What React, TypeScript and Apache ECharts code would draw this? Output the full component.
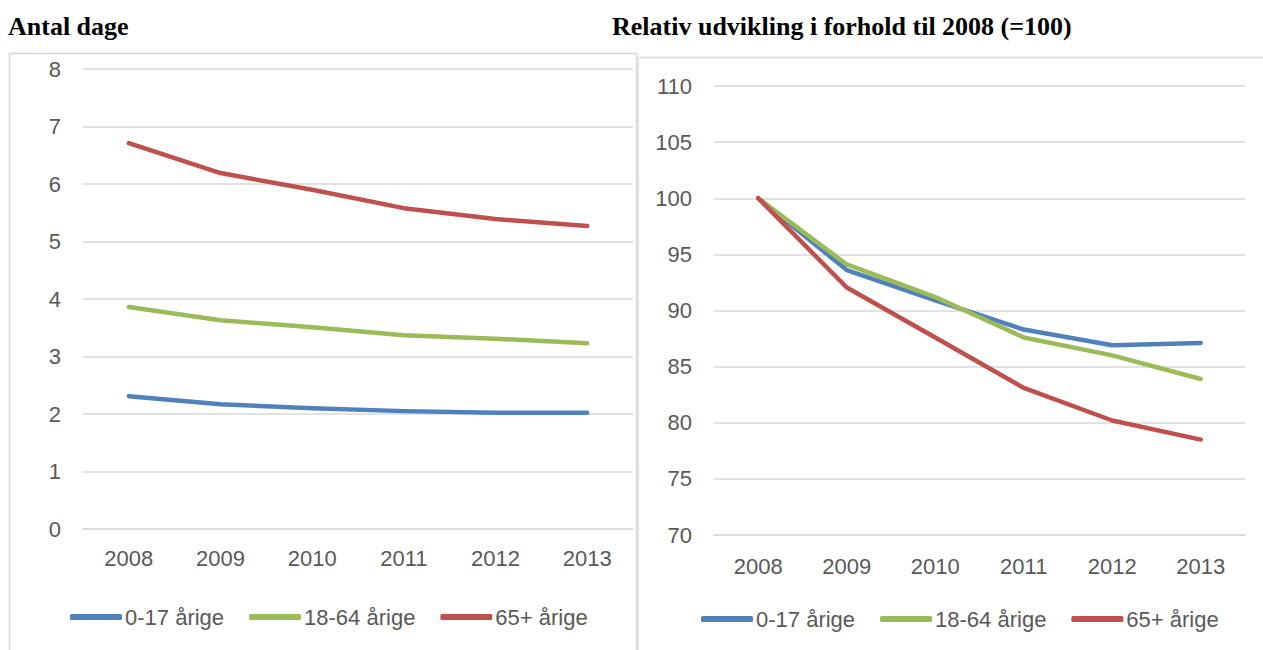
import React, { useEffect, useRef } from "react";
import * as echarts from "echarts";

const years = ["2008", "2009", "2010", "2011", "2012", "2013"];
const seriesNames = ["0-17 årige", "18-64 årige", "65+ årige"];
const colors = ["#4f81bd", "#9bbb59", "#c0504d"];

// Antal dage
const days0_17 = [2.31, 2.17, 2.1, 2.05, 2.02, 2.02];
const days18_64 = [3.86, 3.63, 3.51, 3.37, 3.31, 3.23];
const days65 = [6.71, 6.19, 5.9, 5.58, 5.39, 5.27];

// Relativ udvikling (2008 = 100)
const rel0_17 = [100, 93.6, 90.9, 88.3, 86.9, 87.1];
const rel18_64 = [100, 94.1, 91.2, 87.6, 86.0, 83.9];
const rel65 = [100, 92.05, 87.6, 83.1, 80.2, 78.5];

const leftTitle = "Antal dage";
const rightTitle = "Relativ udvikling i forhold til 2008 (=100)";

const FONT = '"Liberation Sans", Arial, sans-serif';
const TXT = "#595959";
const GRID = "#d9d9d9";

export default function App() {
  const ref = useRef<HTMLDivElement>(null);
  useEffect(() => {
    if (!ref.current) return;
    const chart = echarts.init(ref.current, undefined, { renderer: "svg" });
    const mkX = (gi: number, margin: number) => ({
      type: "category",
      gridIndex: gi,
      data: years,
      boundaryGap: true,
      axisLine: { show: true, lineStyle: { color: GRID, width: 1.5 } },
      axisTick: { show: false },
      axisLabel: { color: TXT, fontSize: 22, fontFamily: FONT, margin },
    });
    const mkY = (gi: number, min: number, max: number, interval: number) => ({
      type: "value",
      gridIndex: gi,
      min,
      max,
      interval,
      axisLine: { show: false },
      axisTick: { show: false },
      splitLine: { show: true, lineStyle: { color: GRID, width: 1.5 } },
      axisLabel: { color: TXT, fontSize: 22, fontFamily: FONT, margin: 22 },
    });
    const leftData = [days0_17, days18_64, days65];
    const rightData = [rel0_17, rel18_64, rel65];
    const series: any[] = [];
    leftData.forEach((d, i) =>
      series.push({
        type: "line",
        name: seriesNames[i],
        xAxisIndex: 0,
        yAxisIndex: 0,
        data: d,
        symbol: "none",
        lineStyle: { color: colors[i], width: 4.5, cap: "round", join: "round" },
        itemStyle: { color: colors[i] },
      })
    );
    rightData.forEach((d, i) =>
      series.push({
        type: "line",
        name: seriesNames[i],
        xAxisIndex: 1,
        yAxisIndex: 1,
        data: d,
        symbol: "none",
        lineStyle: { color: colors[i], width: 4.5, cap: "round", join: "round" },
        itemStyle: { color: colors[i] },
      })
    );
    const legendBase = {
      data: seriesNames,
      icon: "roundRect",
      itemWidth: 52,
      itemHeight: 6,
      itemGap: 25,
      selectedMode: false,
      textStyle: { color: TXT, fontSize: 22, fontFamily: FONT, padding: [0, 0, 0, -2] },
    };
    chart.setOption({
      animation: false,
      backgroundColor: "#ffffff",
      grid: [
        { left: 83, right: 1263 - 633, top: 69, bottom: 650 - 529 },
        { left: 714, right: 1263 - 1245, top: 86, bottom: 650 - 535 },
      ],
      xAxis: [mkX(0, 18), mkX(1, 20)],
      yAxis: [mkY(0, 0, 8, 1), mkY(1, 70, 110, 5)],
      legend: [
        { ...legendBase, left: 65, top: 601 },
        { ...legendBase, left: 696, top: 603 },
      ],
      series,
      graphic: [
        {
          type: "rect",
          silent: true,
          shape: { x: 9.5, y: 53.5, width: 627, height: 700 },
          style: { fill: "none", stroke: GRID, lineWidth: 1.5 },
        },
        {
          type: "rect",
          silent: true,
          shape: { x: 638, y: 57.5, width: 700, height: 700 },
          style: { fill: "none", stroke: GRID, lineWidth: 1.5 },
        },
        {
          type: "text",
          x: 8,
          y: 26,
          style: {
            text: leftTitle,
            font: 'bold 26px "Liberation Serif", serif',
            fill: "#000000",
            verticalAlign: "middle",
          },
        },
        {
          type: "text",
          x: 612,
          y: 26,
          style: {
            text: rightTitle,
            font: 'bold 26px "Liberation Serif", serif',
            fill: "#000000",
            verticalAlign: "middle",
          },
        },
      ],
    });
    return () => chart.dispose();
  }, []);
  return (
    <div
      ref={ref}
      style={{ position: "fixed", left: 0, top: 0, width: 1263, height: 650 }}
    />
  );
}
